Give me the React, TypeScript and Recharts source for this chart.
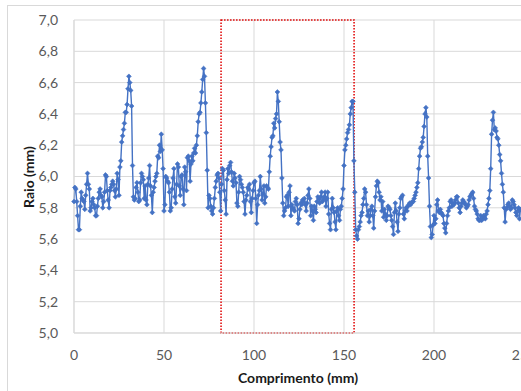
import React from 'react';
import { LineChart, Line, XAxis, YAxis, CartesianGrid, ReferenceArea } from 'recharts';

// one reading every 0.5 mm in 25 mm pieces
const STEP = 0.5;

const raio0to25 = [
  5.84, 5.93, 5.92, 5.84, 5.75, 5.66, 5.66, 5.81, 5.9, 5.86,
  5.85, 5.84, 5.79, 5.88, 5.95, 6.02, 5.95, 5.92, 5.78, 5.8,
  5.84, 5.86, 5.82, 5.8, 5.75, 5.75, 5.81, 5.86, 5.9, 5.92,
  5.88, 5.87, 5.8, 5.84, 5.9, 6.01, 6.0, 5.91, 5.85, 5.8,
  5.91, 5.93, 5.95, 5.97, 5.95, 5.91, 5.87, 5.92, 6.02, 5.98,
];
const raio25to50 = [
  5.88, 6.06, 6.1, 6.22, 6.26, 6.3, 6.34, 6.41, 6.41, 6.46,
  6.56, 6.64, 6.6, 6.55, 6.45, 6.07, 5.87, 5.85, 5.86, 5.93,
  5.96, 5.9, 5.84, 5.85, 5.96, 6.02, 6.0, 5.98, 5.86, 5.94,
  5.85, 5.82, 5.95, 5.99, 6.07, 5.94, 5.88, 5.77, 5.9, 5.93,
  5.97, 6.0, 6.02, 6.13, 6.12, 6.2, 6.16, 6.27, 6.17, 6.05,
];
const raio50to75 = [
  5.78, 5.82, 6.0, 5.99, 5.97, 5.96, 5.9, 5.78, 5.8, 5.92,
  5.99, 6.05, 5.87, 5.83, 5.95, 6.08, 6.06, 5.94, 5.88, 6.0,
  6.01, 5.92, 5.82, 6.06, 6.03, 5.91, 6.12, 6.13, 6.1, 5.97,
  6.08, 6.13, 6.1, 6.15, 6.18, 6.15, 6.2, 6.26, 6.35, 6.4,
  6.41, 6.47, 6.54, 6.62, 6.69, 6.64, 6.47, 6.28, 6.04, 5.8,
];
const raio75to100 = [
  5.88, 5.86, 5.81, 5.78, 5.76, 5.8, 5.86, 5.93, 5.97, 6.01,
  6.02, 5.99, 5.9, 5.78, 5.95, 6.05, 6.04, 5.91, 5.85, 5.76,
  5.98, 6.05, 6.02, 6.07, 6.09, 6.03, 5.97, 5.94, 6.02, 5.99,
  5.96, 5.83, 5.81, 5.9, 6.0, 5.98, 5.95, 5.93, 5.9, 5.84,
  5.76, 5.85, 5.88, 5.93, 5.92, 5.95, 5.84, 5.77, 5.86, 5.91,
];
const raio100to125 = [
  5.96, 5.97, 5.86, 5.7, 5.82, 5.88, 5.91, 6.0, 5.92, 5.85,
  5.89, 5.94, 5.83, 5.87, 5.94, 5.93, 5.92, 6.03, 6.13, 6.19,
  6.25, 6.26, 6.34, 6.31, 6.37, 6.4, 6.54, 6.48, 6.35, 6.22,
  6.17, 5.99, 5.83, 5.75, 5.78, 5.8, 5.87, 5.88, 5.81, 5.9,
  5.94, 5.75, 5.82, 5.8, 5.79, 5.78, 5.84, 5.86, 5.82, 5.7,
];
const raio125to150 = [
  5.73, 5.79, 5.83, 5.82, 5.85, 5.84, 5.86, 5.82, 5.78, 5.83,
  5.88, 5.92, 5.86, 5.75, 5.81, 5.78, 5.72, 5.81, 5.79, 5.77,
  5.84, 5.87, 5.86, 5.83, 5.87, 5.9, 5.84, 5.85, 5.87, 5.9,
  5.81, 5.86, 5.9, 5.76, 5.7, 5.66, 5.79, 5.86, 5.8, 5.77,
  5.71, 5.66, 5.78, 5.8, 5.75, 5.72, 5.79, 5.81, 5.86, 5.92,
];
const raio150to175 = [
  6.07, 6.17, 6.2, 6.24, 6.28, 6.3, 6.33, 6.4, 6.44, 6.48,
  6.48, 6.1, 5.9, 5.66, 5.62, 5.6, 5.66, 5.68, 5.71, 5.75,
  5.77, 5.82, 5.86, 5.92, 5.9, 5.82, 5.75, 5.78, 5.71, 5.75,
  5.79, 5.81, 5.75, 5.67, 5.78, 5.87, 5.94, 5.97, 5.96, 5.9,
  5.85, 5.87, 5.78, 5.84, 5.74, 5.79, 5.76, 5.72, 5.75, 5.81,
];
const raio175to200 = [
  5.8, 5.79, 5.75, 5.72, 5.68, 5.63, 5.77, 5.83, 5.78, 5.71,
  5.65, 5.76, 5.8, 5.86, 5.87, 5.88, 5.76, 5.73, 5.78, 5.8,
  5.78, 5.81, 5.82, 5.83, 5.82, 5.83, 5.84, 5.84, 5.86, 5.88,
  5.9, 5.93, 5.96, 6.05, 6.13, 6.18, 6.19, 6.22, 6.25, 6.32,
  6.4, 6.44, 6.38, 6.13, 5.99, 5.81, 5.68, 5.61, 5.63, 5.69,
];
const raio200to225 = [
  5.75, 5.7, 5.73, 5.82, 5.85, 5.78, 5.77, 5.79, 5.77, 5.76,
  5.75, 5.7, 5.67, 5.64, 5.7, 5.75, 5.78, 5.8, 5.84, 5.85,
  5.81, 5.83, 5.82, 5.83, 5.85, 5.87, 5.87, 5.83, 5.8, 5.77,
  5.81, 5.83, 5.85, 5.84, 5.83, 5.82, 5.8, 5.81, 5.82, 5.85,
  5.87, 5.88, 5.89, 5.9, 5.86, 5.81, 5.79, 5.78, 5.76, 5.73,
];
const raio225to248 = [
  5.72, 5.72, 5.75, 5.72, 5.73, 5.75, 5.74, 5.73, 5.76, 5.78,
  5.82, 5.86, 5.91, 6.05, 6.27, 6.36, 6.41, 6.3, 6.31, 6.29,
  6.25, 6.24, 6.2, 6.14, 6.1, 6.02, 5.95, 5.9, 5.8, 5.71,
  5.79, 5.8, 5.82, 5.83, 5.81, 5.79, 5.8, 5.85, 5.84, 5.82,
  5.8, 5.77, 5.75, 5.78, 5.8, 5.73, 5.79,
];

const raio = [
  ...raio0to25, ...raio25to50, ...raio50to75, ...raio75to100, ...raio100to125,
  ...raio125to150, ...raio150to175, ...raio175to200, ...raio200to225, ...raio225to248,
];

const xTicks = [0, 50, 100, 150, 200, 250];
const yTicks = [5.0, 5.2, 5.4, 5.6, 5.8, 6.0, 6.2, 6.4, 6.6, 6.8, 7.0];

// dotted red box marking the zoomed section (mm)
const boxStart = 81.7;
const boxEnd = 155.6;

const data = raio.map((r, i) => ({ comprimento: i * STEP, raio: r }));

const BLUE = '#4472C4';
const GRID = '#d9d9d9';

const renderDot = (props: any) => {
  const { cx, cy, index } = props;
  if (cx == null || cy == null) return <g key={index} />;
  const s = 2.4;
  return (
    <path
      key={index}
      d={`M${cx},${cy - s}L${cx + s},${cy}L${cx},${cy + s}L${cx - s},${cy}Z`}
      fill={BLUE}
      stroke={BLUE}
      strokeWidth={0.6}
    />
  );
};

const fmt = (v: number) => v.toFixed(1).replace('.', ',');

export default function App() {
  return (
    <div
      style={{
        position: 'absolute',
        left: 0,
        top: 0,
        width: 521,
        height: 391,
        overflow: 'hidden',
        background: '#fff',
        fontFamily: 'Lato, "Open Sans", sans-serif',
      }}
    >
      <div
        style={{
          position: 'absolute',
          left: 7,
          top: 5,
          width: 600,
          height: 500,
          border: `1px solid ${GRID}`,
        }}
      />
      <div style={{ position: 'absolute', left: 0, top: 0 }}>
        <LineChart
          width={530}
          height={391}
          data={data}
          margin={{ top: 20, right: 6, bottom: 28, left: 14 }}
        >
          <CartesianGrid stroke={GRID} strokeWidth={1} />
          <XAxis
            type="number"
            dataKey="comprimento"
            domain={[0, 250]}
            ticks={xTicks}
            interval={0}
            tickLine={false}
            axisLine={{ stroke: GRID }}
            tick={{ fill: '#595959', fontSize: 14 }}
            tickMargin={11}
            height={30}
          />
          <YAxis
            type="number"
            domain={[5, 7]}
            ticks={yTicks}
            interval={0}
            tickFormatter={fmt}
            tickLine={false}
            axisLine={{ stroke: GRID }}
            tick={{ fill: '#595959', fontSize: 14 }}
            tickMargin={10}
            width={60}
          />
          <ReferenceArea
            x1={boxStart}
            x2={boxEnd}
            y1={5}
            y2={7}
            fill="none"
            fillOpacity={0}
            stroke="#e00000"
            strokeWidth={1.5}
            strokeDasharray="1.5 1.5"
            ifOverflow="visible"
          />
          <Line
            type="linear"
            dataKey="raio"
            stroke={BLUE}
            strokeWidth={1.4}
            dot={renderDot}
            activeDot={false}
            isAnimationActive={false}
          />
        </LineChart>
      </div>
      <div
        style={{
          position: 'absolute',
          left: 28,
          top: 177,
          transform: 'translate(-50%, -50%) rotate(-90deg)',
          fontWeight: 'bold',
          fontSize: 14,
          color: '#1a1a1a',
          whiteSpace: 'nowrap',
        }}
      >
        Raio (mm)
      </div>
      <div
        style={{
          position: 'absolute',
          left: 298,
          top: 377,
          transform: 'translate(-50%, -50%)',
          fontWeight: 'bold',
          fontSize: 14,
          color: '#1a1a1a',
          whiteSpace: 'nowrap',
        }}
      >
        Comprimento (mm)
      </div>
    </div>
  );
}
